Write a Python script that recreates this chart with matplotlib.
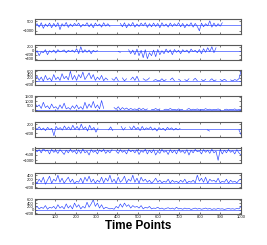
import numpy as np
import matplotlib
matplotlib.use("Agg")
import matplotlib.pyplot as plt

N = None

# eight recorded channels, sampled coarsely from the picture (None = gap)
p1 = [-200, 150, -400, 300, -600, 100, -300, 250, -500, 200, -350, 300, -800, 150, -250, 350, -450, 100,
      -300, 200, -150, 250, -400, 50, -200, 300, -350, 150, -500, 250, -200, 100, -400, 300, -250, 150, -300,
      N, N, N, N, 200, -350, 300, -500, 150, -250, 350, -400, 100, -300, 250, -200, 300, -450, 150, -350, 250,
      -300, 200, -500, 300, -250, 100, -400, 250, -300, 150, -200, 300, -350, 200, -500, 100, -250, 300, -400,
      200, -300, -1000, 250, -350, 150, -200, 600, -400, 250, -300, 150, -250, 300, N, N, N, N, N, N, N, N, N]
p2 = [-150, 0, -250, -50, -100, 50, -200, 0, -80, 30, -120, 50, -60, -20, 40, -100, 20, -50, 30, -80, 100,
      -150, 200, -100, 50, -80, 30, -150, 20, -60, 10, N, N, N, N, N, N, N, N, N, -40, -80, N, N, N, 50, -150,
      30, -200, 80, -250, 20, -350, 50, -400, -100, -250, 30, -300, 60, -200, 0, -150, 80, -100, 40, -200, 60,
      -80, 20, -150, 50, -60, 30, -120, 80, -50, 20, -100, 60, -150, 100, -80, 150, -50, 200, -100, 150,
      N, N, N, N, N, N, N, N, N, N, N, N]
p3 = [100, 300, 50, 250, 0, 350, 80, 200, 20, 400, 100, 250, 50, 450, 150, 300, 80, 600, 100, 350, 50, 400,
      200, 550, 100, 300, 500, 150, 400, 50, 250, 100, 350, 30, 200, 80, N, 150, 50, 250, 30, N, 200, 20, 150,
      N, 100, 250, 50, 300, 20, N, 150, 60, 80, 200, N, 50, 100, 40, 30, 150, 20, 100, N, 80, 200, 30, N, 120,
      40, N, 100, 20, 150, N, 60, 180, 30, N, 100, 20, 120, N, 50, 150, 20, 80, N, 100, 30, 120, 40, N, 80,
      20, 100, 50, 150, 600]
p4 = [800, 400, 600, 200, 900, 300, 500, 150, 700, 250, 400, 100, 600, 200, 800, 150, 300, 100, 500, 200,
      600, 150, 400, 100, 900, 200, 700, 300, 1000, 250, 600, 150, 1100, 200, N, N, N, N, 300, 100, 400, 50,
      300, 100, 250, 50, 200, 80, 150, 40, 250, 60, 200, 30, 150, N, 100, 50, 200, 30, 150, N, 80, 120, 40,
      200, 50, 100, 20, 150, 40, 100, N, 80, 200, 30, 120, 50, 150, 30, 100, 40, 180, 50, 120, 30, 100, 50,
      150, 20, N, 80, 120, 30, 100, 50, 150, 20, 80, 100]
p5 = [50, -30, 80, -50, 30, -80, 60, -40, 20, -300, 100, -20, 50, -60, 120, -30, 80, -50, 150, -40, 100,
      -60, 200, -20, 80, -100, 150, -50, 60, -150, 30, N, N, N, N, -50, 80, -80, N, N, N, 100, -60, 50, N, 80,
      -40, 120, -30, 60, -80, 100, -50, 40, -20, 80, -60, 30, -100, 50, -40, 20, -80, 60, -30, 40, -60, 20,
      -50, 10, N, N, N, N, N, N, N, N, N, N, N, N, -50, -100, N, N, N, N, N, N, N, N, N, N, N, N, N, -50, -250]
p6 = [50, -200, 0, -300, 100, -150, -50, -400, 20, -250, -100, -350, 0, -200, -450, -50, -300, 30, -250,
      -100, -400, -20, -350, 50, -300, -150, -500, 0, -250, -100, -400, -30, -200, 20, -350, -80, -300, 0, N,
      -150, -350, 0, -250, -100, -400, 20, -200, -50, -300, 0, -450, -100, -250, 30, -400, -50, -300, 0, -500,
      -150, -350, 20, -250, -100, -450, 0, -300, -50, -400, 10, -250, -100, -350, 0, -500, -50, -300, 20,
      -200, -100, -400, 0, -250, -50, -350, 30, -300, -150, -1000, 0, -400, -50, -300, 20, -250, -100, -400,
      0, -300, -500]
p7 = [100, 0, 200, 50, 300, -50, 150, 350, 0, 200, 100, 400, 50, 250, 0, 150, 300, 50, 200, -20, 100, 50,
      250, 0, 300, 100, 350, 50, 200, 0, 150, 50, 300, 20, 250, 100, 400, 50, 200, 0, 300, 50, 150, 350, 20,
      200, 100, 400, 50, 250, 0, 300, 100, 200, 50, 150, 0, 100, 250, 50, 150, 20, 100, 50, 200, 0, 150, 50,
      100, 20, 150, 50, 200, 0, 100, 50, 150, 20, 400, 100, 250, 50, 300, 0, 200, 100, 150, 50, 250, 20, 100,
      50, 200, 0, 150, 50, 100, 20, 150, 200]
p8 = [100, 200, 50, 150, 80, 250, 30, 150, 100, 200, 50, 300, 100, 200, 50, 350, 100, 250, 50, 400, 150,
      300, 50, 200, 100, 450, 150, 350, 600, 200, 400, 100, 300, 50, 150, 100, 50, 80, 30, 200, 100, 350, 150,
      400, 200, 300, 100, 250, 150, 200, 100, 250, 50, 150, 100, 200, 50, 100, 80, 150, 50, 100, 30, 80, 120,
      50, 100, 30, 150, 50, 80, 30, 100, 50, 80, 20, 60, 100, 40, 80, 30, 60, 100, 40, 80, 20, 60, 30, 80, 40,
      60, 20, 50, 80, 40, 60, 30, 80, 50, 200]

channels = [p1, p2, p3, p4, p5, p6, p7, p8]
ylims = [(-1500, 900), (-450, 300), (-250, 650), (-100, 1600),
         (-350, 300), (-1200, 200), (-250, 500), (-250, 650)]
yticks = [[500, -1000], [200, 0, -200, -400], [600, 400, 200, 0, -200], [1500, 1000, 500, 0],
          [200, 0, -200], [0, -500, -1000], [400, 200, 0, -200], [600, 400, 200, 0, -200]]
xticks = [100, 200, 300, 400, 500, 600, 700, 800, 900, 1000]

plt.rcParams["font.family"] = ["Liberation Sans", "DejaVu Sans"]
W, H = 267, 245
fig = plt.figure(figsize=(W / 100, H / 100), dpi=100)

for i, vals in enumerate(channels):
    top = 19 + 25.7 * i
    ax = fig.add_axes([35 / W, 1 - (top + 15) / H, 206 / W, 15 / H])
    y = np.array([np.nan if v is None else v for v in vals], dtype=float)
    t = np.linspace(1, 1000, len(y))
    ax.plot(t, y, color=(0.15, 0.25, 1.0), lw=0.45)
    ax.axhline(0, color=(0.15, 0.25, 1.0), lw=0.45)
    ax.set_xlim(1, 1000)
    ax.set_ylim(*ylims[i])
    ax.set_yticks(yticks[i])
    ax.set_xticks(xticks)
    ax.tick_params(direction="in", length=1.5, width=0.4, labelsize=3.0, pad=0.8,
                   top=True, right=True, colors="0.1")
    if i < 7:
        ax.set_xticklabels([])
    for s in ax.spines.values():
        s.set_color("0.35")
        s.set_linewidth(0.8)

ax.set_xlabel("Time Points", fontsize=8.5, fontweight="bold", labelpad=1)

fig.savefig("out.png", dpi=100)
